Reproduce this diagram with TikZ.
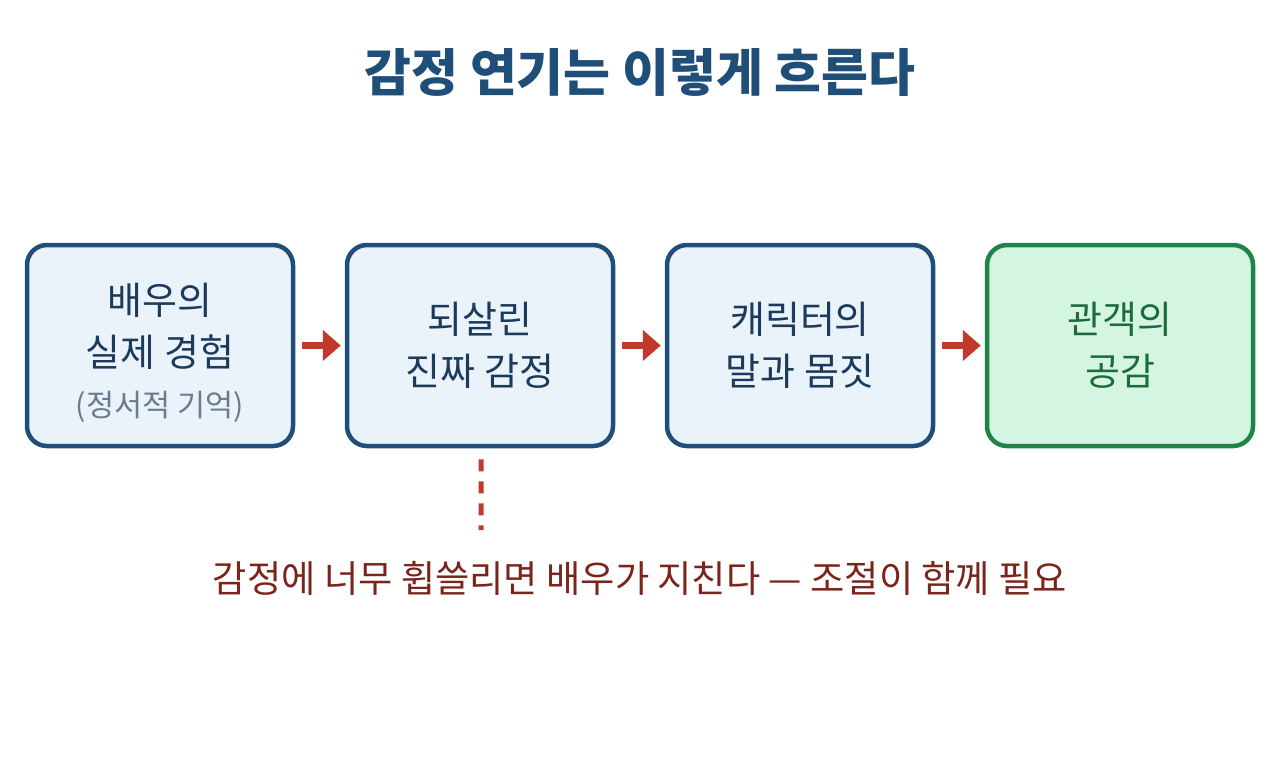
\documentclass[tikz,border=0pt]{standalone}
\usepackage{fontspec}
\setmainfont{Noto Sans CJK KR}
\usetikzlibrary{arrows.meta}
\definecolor{stepline}{HTML}{1F4E79}
\definecolor{stepfill}{HTML}{EAF2FA}
\definecolor{steptext}{HTML}{1B3A5C}
\definecolor{goalline}{HTML}{1E8449}
\definecolor{goalfill}{HTML}{D5F5E3}
\definecolor{goaltext}{HTML}{1E6B3A}
\definecolor{flowred}{HTML}{C0392B}
\definecolor{warnred}{HTML}{7B241C}
\definecolor{subgray}{HTML}{6B7B8C}

\begin{document}
\begin{tikzpicture}[
  stage/.style={draw=stepline, fill=stepfill, line width=0.045cm, rounded corners=0.2cm,
    minimum width=2.66cm, minimum height=2.01cm, align=center, text=steptext,
    font=\fontsize{10.8}{14.8}\selectfont},
  goal/.style={stage, draw=goalline, fill=goalfill, text=goaltext},
  flow/.style={draw=flowred, line width=0.07cm, -{Triangle[length=0.18cm,width=0.3cm]},
    shorten <=0.07cm, shorten >=0.04cm}
]
\useasboundingbox (0,0) rectangle (12.8,-7.68);

% title
\node[font=\bfseries\fontsize{14.5}{17}\selectfont, text=stepline] (title) at (6.4,-0.72) {감정 연기는 이렇게 흐른다};

% the four stages
\node[stage] (memory) at (1.6,-3.455) {\rule{0pt}{0.46cm}배우의\\실제 경험\\[-0.5pt]{\fontsize{8.7}{10}\selectfont\color{subgray}(정서적 기억)}};
\node[stage] (revived) at (4.8,-3.455) {되살린\\진짜 감정};
\node[stage] (voice) at (8.0,-3.455) {캐릭터의\\말과 몸짓};
\node[goal] (audience) at (11.2,-3.455) {관객의\\공감};

\draw[flow] (memory.east) -- (revived.west);
\draw[flow] (revived.east) -- (voice.west);
\draw[flow] (voice.east) -- (audience.west);

% warning
\coordinate (tip) at (4.81,-5.3);
\draw[flowred, line width=0.05cm, dash pattern=on 0.12cm off 0.1cm] ([xshift=0.01cm,yshift=-0.11cm]revived.south) -- (tip);
\node[text=warnred, font=\fontsize{10.6}{12}\selectfont] (warn) at (6.4,-5.78) {감정에 너무 휩쓸리면 배우가 지친다 — 조절이 함께 필요};

\end{tikzpicture}
\end{document}
